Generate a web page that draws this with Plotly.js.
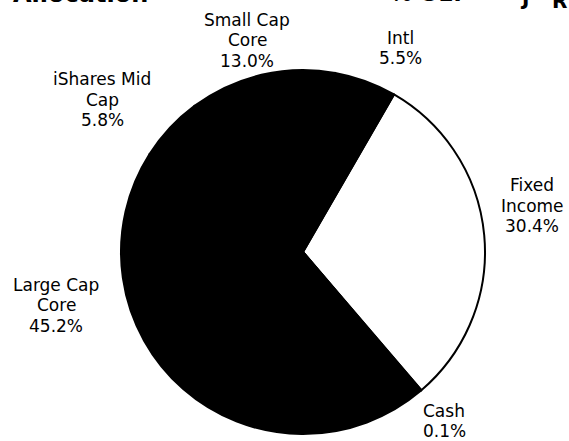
<!DOCTYPE html>
<html><head><meta charset="utf-8">
<script src="https://cdn.plot.ly/plotly-3.0.1.min.js"></script>
<style>html,body{margin:0;padding:0;background:#fff;overflow:hidden}</style>
</head><body><div id="chart" style="width:569px;height:441px"></div>
<script>
// ---- data ----
const categories = ["Fixed Income", "Cash", "Large Cap Core", "iShares Mid Cap", "Small Cap Core", "Intl"];
const values = [30.4, 0.1, 45.2, 5.8, 13.0, 5.5];
const labelLines = [["Fixed", "Income"], ["Cash"], ["Large Cap", "Core"], ["iShares Mid", "Cap"], ["Small Cap", "Core"], ["Intl"]];

// ---- styling / layout (not data) ----
const sliceColors = ["#ffffff", "#000000", "#000000", "#000000", "#000000", "#000000"];
const W = 569, H = 441;
const labelPos = [[532, 206], [444, 421], [56, 305], [102, 100], [247, 40], [400, 48]];
const lineGap = 20.5;
const labelFont = {family: "DejaVu Sans, Verdana, sans-serif", size: 17, color: "#000"};

const annotations = [];
categories.forEach((c, i) => {
  const lines = labelLines[i].concat([values[i].toFixed(1) + "%"]);
  const n = lines.length;
  lines.forEach((t, k) => {
    annotations.push({
      xref: "paper", yref: "paper",
      x: labelPos[i][0] / W, y: 1 - labelPos[i][1] / H,
      xanchor: "center", yanchor: "middle",
      yshift: -(k - (n - 1) / 2) * lineGap,
      text: t, showarrow: false, font: labelFont
    });
  });
});
// clipped scan fragments at the top edge of the scanned page
const frag = (txt, xr, ybottom, size) => ({xref: "paper", yref: "paper", x: xr / W, y: 1 - ybottom / H,
  xanchor: "right", yanchor: "bottom", text: "<b>" + txt + "</b>", showarrow: false,
  font: {family: "DejaVu Sans, Verdana, sans-serif", size: size, color: "#000"}});
annotations.push(frag("Allocation", 150, 10, 24));
annotations.push(frag("% OEF", 470, 8, 22));
annotations.push(frag("J", 531, 12, 20));
annotations.push(frag("R", 569, 15, 20));

const trace = {
  type: "pie",
  labels: categories,
  values: values,
  sort: false,
  direction: "clockwise",
  rotation: 30,
  textinfo: "none",
  hoverinfo: "skip",
  marker: {colors: sliceColors, line: {color: "#000", width: 2}},
  domain: {x: [121 / W, 485 / W], y: [1 - 435 / H, 1 - 69 / H]}
};

Plotly.newPlot("chart", [trace], {
  width: W, height: H,
  margin: {l: 0, r: 0, t: 0, b: 0},
  paper_bgcolor: "#fff",
  showlegend: false,
  annotations: annotations
}, {staticPlot: true});
</script>
</body></html>
